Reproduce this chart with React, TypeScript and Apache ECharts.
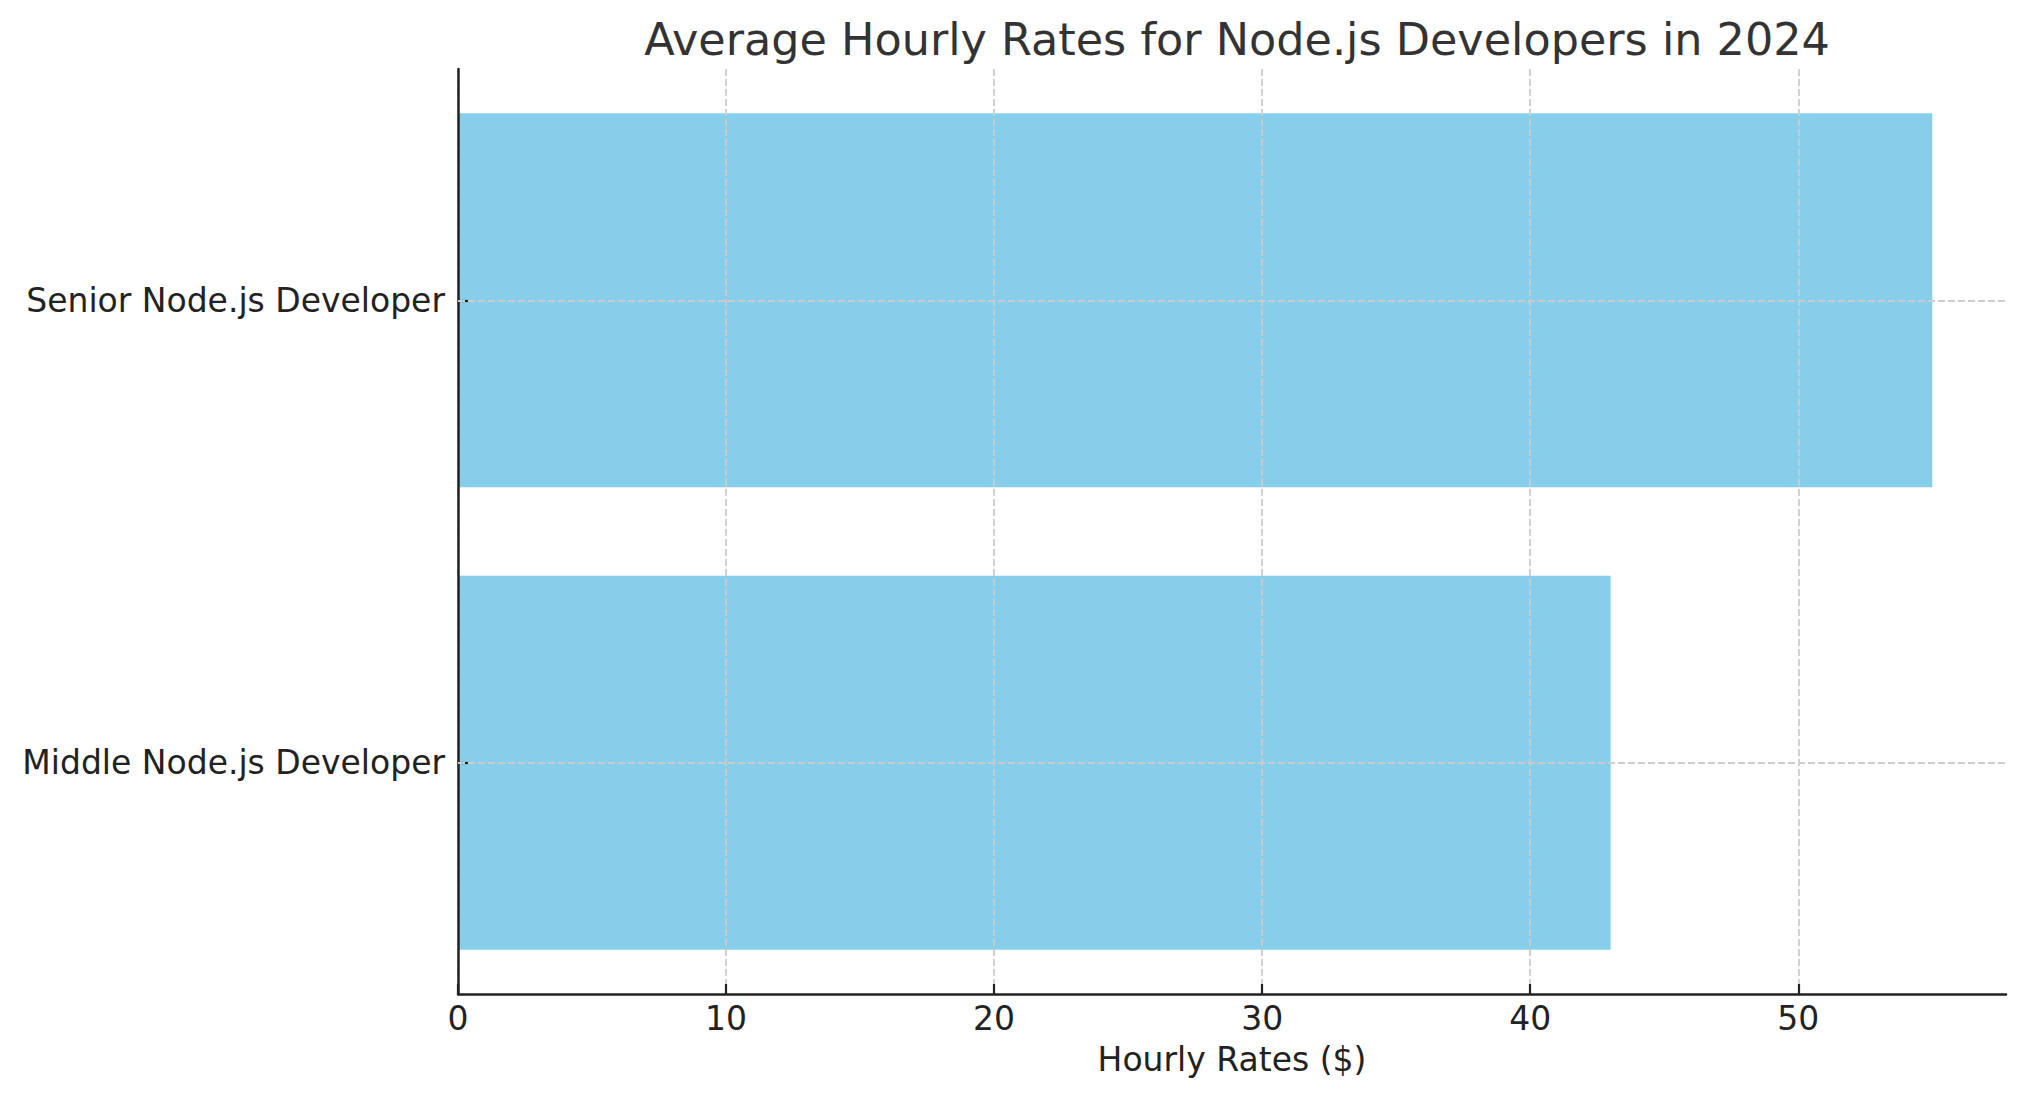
import React, { useEffect, useRef } from "react";
import * as echarts from "echarts";

const categories: string[] = ["Middle Node.js Developer", "Senior Node.js Developer"];
const rates: number[] = [43, 55];
const xTicks: number[] = [0, 10, 20, 30, 40, 50];
const titleText = "Average Hourly Rates for Node.js Developers in 2024";
const xAxisName = "Hourly Rates ($)";

const FONT = "'DejaVu Sans', 'Noto Sans', sans-serif";

export default function App() {
  const ref = useRef<HTMLDivElement>(null);
  useEffect(() => {
    document.body.style.margin = "0";
    if (!ref.current) return;
    const chart = echarts.init(ref.current, undefined, { renderer: "svg" });
    const grid = { left: 458, right: 21, top: 69, bottom: 107 };
    chart.setOption({
      animation: false,
      backgroundColor: "#ffffff",
      title: {
        text: titleText,
        left: 1232,
        top: 12,
        textAlign: "center",
        textStyle: { fontFamily: FONT, fontSize: 44.5, fontWeight: "normal", color: "#333333" },
      },
      grid: { ...grid, containLabel: false },
      xAxis: {
        type: "value",
        min: 0,
        max: 57.75,
        interval: 10,
        z: 3,
        name: xAxisName,
        nameLocation: "middle",
        nameGap: 49,
        nameTextStyle: { fontFamily: FONT, fontSize: 33, color: "#222222" },
        axisLine: { show: true, lineStyle: { color: "#222222", width: 2.5 } },
        axisTick: { show: true, inside: true, length: 10, lineStyle: { color: "#222222", width: 2.2 }, customValues: xTicks },
        axisLabel: { fontFamily: FONT, fontSize: 33, color: "#222222", margin: 8, customValues: xTicks },
        splitLine: { show: true, lineStyle: { color: "#cccccc", type: [7, 3], width: 1.8 } },
      },
      yAxis: {
        type: "category",
        data: categories,
        z: 3,
        axisLine: { show: true, lineStyle: { color: "#222222", width: 2.5 } },
        axisTick: { show: true, inside: true, length: 10, alignWithLabel: true, lineStyle: { color: "#222222", width: 2.2 } },
        axisLabel: { fontFamily: FONT, fontSize: 33, color: "#222222", margin: 13 },
        splitLine: { show: false },
      },
      series: [
        {
          type: "bar",
          data: rates,
          barWidth: 374,
          itemStyle: { color: "#87CEEB" },
          markLine: {
            silent: true,
            symbol: "none",
            z: 4,
            label: { show: false },
            lineStyle: { color: "#cccccc", type: [7, 3], width: 1.8 },
            data: categories.map((c) => ({ yAxis: c })),
          },
        },
      ],
    });
    return () => chart.dispose();
  }, []);
  return <div ref={ref} style={{ width: 2027, height: 1101 }} />;
}
